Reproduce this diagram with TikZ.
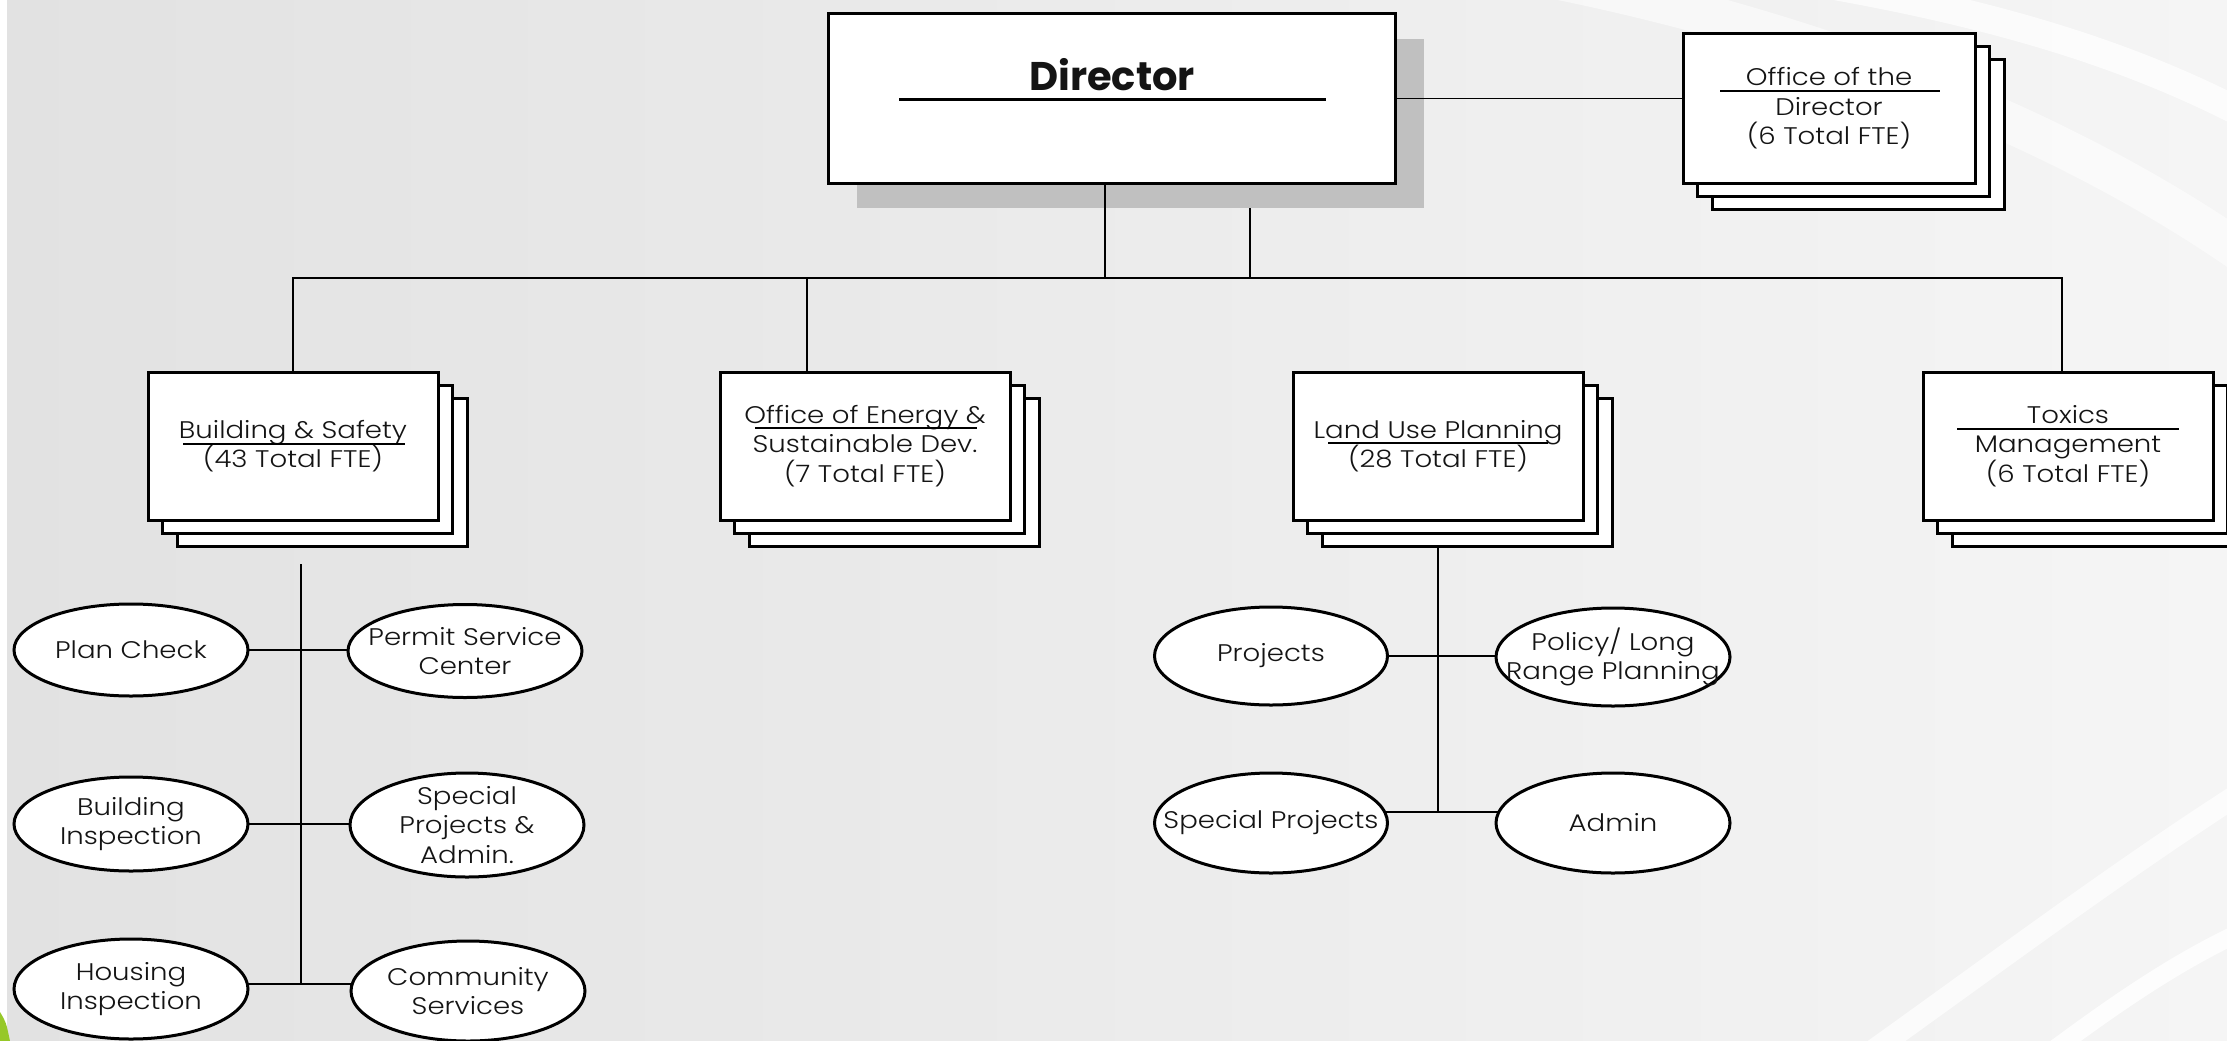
\documentclass[tikz,border=0pt]{standalone}
\usepackage{fontspec}
\newfontfamily\gfont{Poppins}[UprightFont=* Light, FakeStretch=1.15]
\newfontfamily\dfont{Poppins}
\usetikzlibrary{shapes.geometric}
\pgfdeclarelayer{backdrop}
\pgfdeclarelayer{links}
\pgfdeclarelayer{stack}
\pgfsetlayers{backdrop,links,stack,main}
\definecolor{bgL}{RGB}{226,226,226}
\definecolor{bgR}{RGB}{245,245,245}
\definecolor{shd}{RGB}{192,192,192}
\definecolor{leaf}{RGB}{150,200,40}
\definecolor{ink}{RGB}{20,20,20}
\tikzset{
 box/.style={draw=black, line width=3pt, fill=white, inner sep=0pt, outer sep=0pt, align=center, font=\gfont\fontsize{24}{29.5}\selectfont, text=ink},
 stackbox/.style={draw=black, line width=3pt, fill=white},
 conn/.style={draw=black, line width=1.6pt},
 uline/.style={draw=black, line width=2.4pt},
 oval/.style={ellipse, draw=black, line width=3pt, fill=white, inner sep=0pt, outer sep=0pt, minimum width=234pt},
 otext/.style={align=center, font=\gfont\fontsize{24}{29.5}\selectfont, text=ink, inner sep=0pt},
}
\newcommand\stk[1]{%
 \begin{pgfonlayer}{stack}
 \draw[stackbox] ([shift={(29,26)}]#1.north west) rectangle ([shift={(29,26)}]#1.south east);
 \draw[stackbox] ([shift={(14.5,13)}]#1.north west) rectangle ([shift={(14.5,13)}]#1.south east);
 \end{pgfonlayer}}
\begin{document}
\begin{tikzpicture}[x=1pt,y=-1pt]
\useasboundingbox (0,0) rectangle (2227,1041);
\clip (0,0) rectangle (2227,1041);
% background
\begin{pgfonlayer}{backdrop}
\shade[left color=bgL, right color=bgR] (0,0) rectangle (2227,1041);
\draw[white, opacity=0.75, line width=28pt] (1800,-20) .. controls (1980,10) and (2120,50) .. (2245,115);
\draw[white, opacity=0.55, line width=40pt] (1560,-20) .. controls (1850,40) and (2080,140) .. (2245,255);
\draw[white, opacity=0.7, line width=22pt] (1860,1060) .. controls (2000,960) and (2120,870) .. (2245,790);
\draw[white, opacity=0.85, line width=18pt] (2040,1060) .. controls (2120,1000) and (2180,960) .. (2245,930);
\fill[white] (0,0) rectangle (7,1041);
\fill[leaf] (0,1041) -- (0,1012) .. controls (6,1022) .. (10,1041) -- cycle;
\node[fill=shd, inner sep=0pt, outer sep=0pt, minimum width=567pt, minimum height=169pt] (dsh) at (1140.5,123.5) {};
\end{pgfonlayer}
% director and top level boxes
\node[box, minimum width=567pt, minimum height=169pt] (dir) at (1111.5,98.5) {};
\node[font=\dfont\bfseries\fontsize{40}{48}\selectfont, anchor=base, text=ink, inner sep=0pt] (dirt) at (1112,91) {Director};
\draw[uline, line width=3pt] (899,99) -- (1326,99);

\node[box, minimum width=292pt, minimum height=149pt] (od) at (1829,108.5) {Office of the\\Director\\(6 Total FTE)};
\stk{od}
\draw[uline] (1720,91) -- (1940,91);

\node[box, minimum width=290pt, minimum height=148pt] (bs) at (293,446) {Building \& Safety\\(43 Total FTE)};
\stk{bs}
\draw[uline] (183,444) -- (405,444);

\node[box, minimum width=290pt, minimum height=148pt] (oe) at (865,446) {Office of Energy \&\\Sustainable Dev.\\(7 Total FTE)};
\stk{oe}
\draw[uline] (755,428) -- (977,428);

\node[box, minimum width=290pt, minimum height=148pt] (lu) at (1438,446) {Land Use Planning\\(28 Total FTE)};
\stk{lu}
\draw[uline] (1328,443) -- (1548,443);

\node[box, minimum width=290pt, minimum height=148pt] (tx) at (2068,446) {Toxics\\Management\\(6 Total FTE)};
\stk{tx}
\draw[uline] (1957,429) -- (2179,429);

% ovals, Building & Safety
\node[oval, minimum height=92pt] (pc) at (131,650) {};
\node[otext] (pct) at (pc) {Plan Check};
\node[oval, minimum height=93pt] (ps) at (465,651) {};
\node[otext] (pst) at (ps) {Permit Service\\Center};
\node[oval, minimum height=94pt] (bi) at (131,824) {};
\node[otext] (bit) at (bi) {Building\\Inspection};
\node[oval, minimum height=104pt] (sp) at (467,825) {};
\node[otext] (spt) at (sp) {Special\\Projects \&\\Admin.};
\node[oval, minimum height=100pt] (hi) at (131,989) {};
\node[otext] (hit) at (hi) {Housing\\Inspection};
\node[oval, minimum height=100pt] (cs) at (468,991) {};
\node[otext] (cst) at (cs) {Community\\Services};

% ovals, Land Use
\node[oval, minimum width=233pt, minimum height=98pt] (pj) at (1271,656) {};
\node[otext] (pjt) at (pj) {Projects};
\node[oval, minimum height=98pt] (pl) at (1613,657) {};
\node[otext] (plt) at (pl) {Policy/ Long\\Range Planning};
\node[oval, minimum width=233pt, minimum height=100pt] (spj) at (1271,823) {};
\node[otext] (spjt) at (spj) {Special Projects};
\node[oval, minimum height=100pt] (ad) at (1613,823) {};
\node[otext] (adt) at (ad) {Admin};

% connectors
\coordinate (bus) at (1105,278);
\coordinate (bst) at (301,564);
\coordinate (bsb) at (301,984);
\coordinate (lub) at (1438,812);
\begin{pgfonlayer}{links}
\draw[conn] ([xshift=-6.5pt]dir.center) -- (bus);
\draw[conn] ([xshift=109.5pt]dsh.south) -- ([xshift=109.5pt]dsh.south |- bus);
\draw[conn] (dir.center) -- (dir.center -| od.center);
\draw[conn] (bs.center) |- (bus) -| ([xshift=-6pt]tx.center);
\draw[conn] ([xshift=-58pt]oe.center) -- ([xshift=-58pt]oe.center |- bus);
\draw[conn] (lu.center) -- (lub);
\draw[conn] (bst) -- (bsb);
\draw[conn] (pc.center) -- (pc.center -| ps.center);
\draw[conn] (bi.center) -- (bi.center -| sp.center);
\draw[conn] (bsb -| hi.center) -- (bsb -| cs.center);
\draw[conn] (pj.center) -- (pj.center -| pl.center);
\draw[conn] (lub -| spj.center) -- (lub -| ad.center);
\end{pgfonlayer}
\end{tikzpicture}
\end{document}
